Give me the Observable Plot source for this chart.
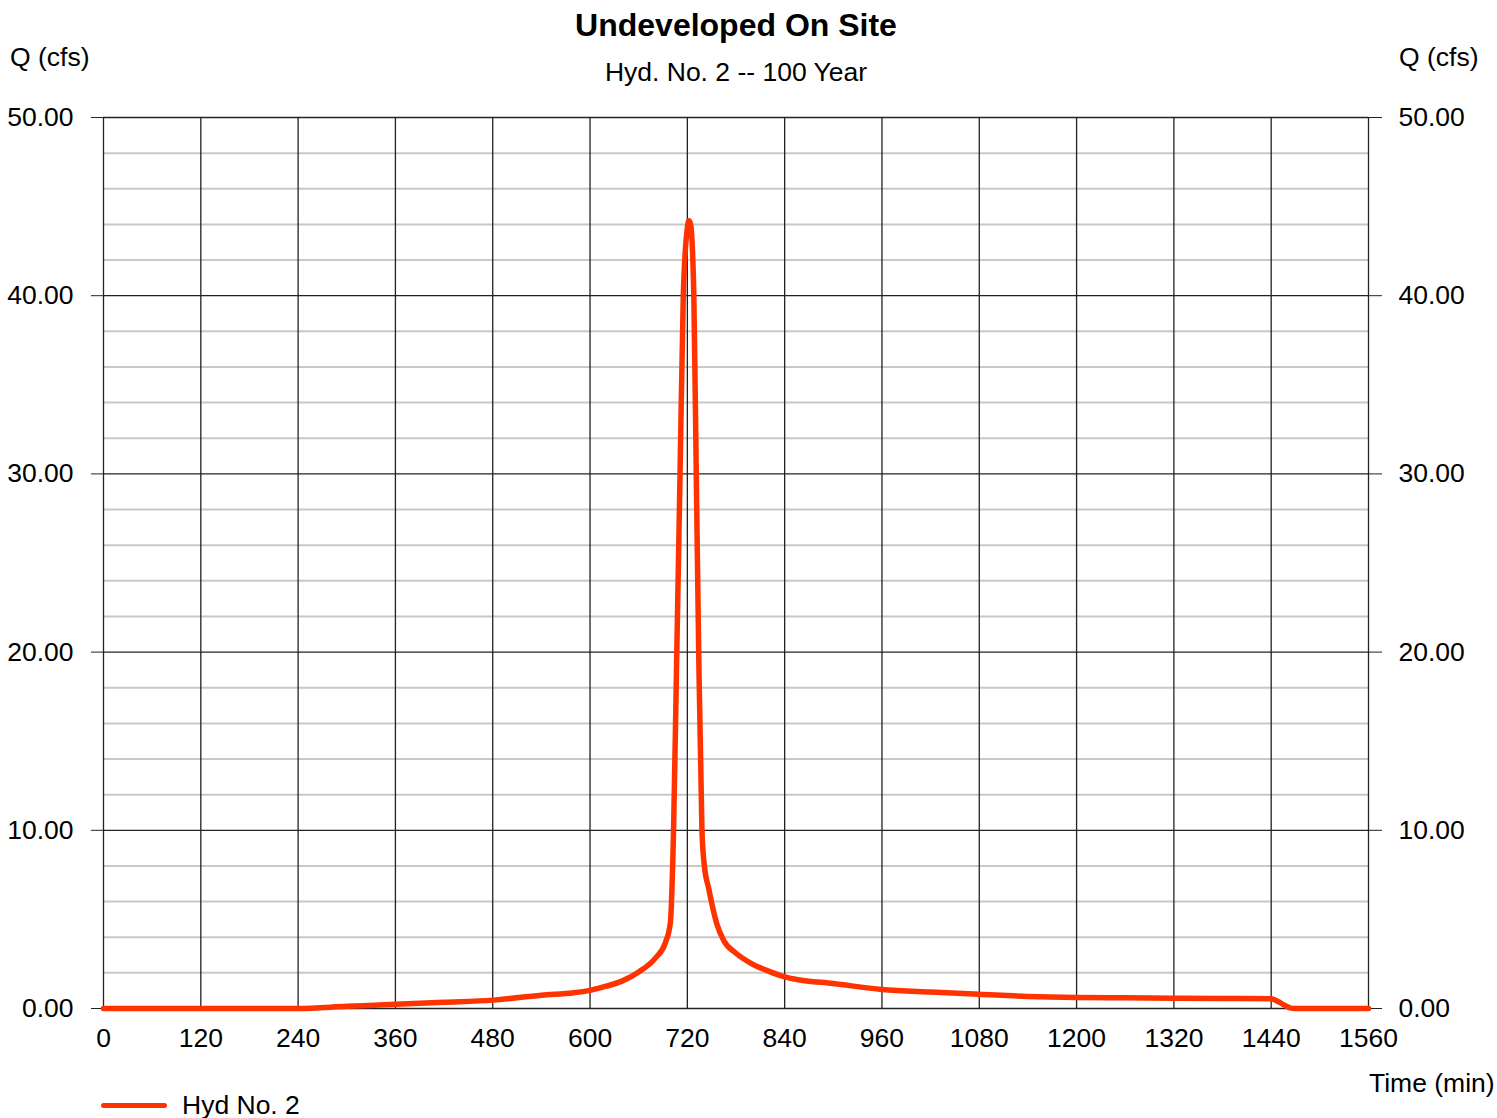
<!DOCTYPE html>
<html>
<head>
<meta charset="utf-8">
<script src="https://cdn.jsdelivr.net/npm/d3@7"></script>
<script src="https://cdn.jsdelivr.net/npm/@observablehq/plot@0.6"></script>
<style>
  html, body { margin: 0; padding: 0; background: #fff; overflow: hidden; }
  #wrap { position: relative; width: 1497px; height: 1118px; font-family: "Liberation Sans", Arial, sans-serif; color: #000; }
  .lbl { position: absolute; white-space: nowrap; font-size: 26.5px; line-height: 1; }
  #title { left: 0; width: 1472px; text-align: center; top: 9px; font-size: 32px; font-weight: bold; }
  #subtitle { left: 0; width: 1472px; text-align: center; top: 59px; }
  #qleft { left: 10px; top: 44px; }
  #qright { left: 1399px; top: 44px; }
  #tlabel { left: 1369px; top: 1070px; }
  #legend { left: 101px; top: 1092px; display: flex; align-items: center; }
  #legend .sw { width: 66px; height: 5px; border-radius: 3px; background: #ff3300; margin-right: 15px; }
</style>
</head>
<body>
<div id="wrap">
  <div id="chart"></div>
  <div class="lbl" id="title">Undeveloped On Site</div>
  <div class="lbl" id="subtitle">Hyd. No. 2 -- 100 Year</div>
  <div class="lbl" id="qleft">Q (cfs)</div>
  <div class="lbl" id="qright">Q (cfs)</div>
  <div class="lbl" id="tlabel">Time (min)</div>
  <div class="lbl" id="legend"><span class="sw"></span><span>Hyd No. 2</span></div>
</div>
<script>
// Hydrograph values (time in minutes, Q in cfs)
const timeMin = [0, 240, 300, 360, 420, 480, 540, 580, 600, 620, 640, 660, 680, 693, 699, 703, 707, 711, 715, 720, 722, 724, 728, 731, 734, 738, 741, 746, 756, 765, 780, 798, 820, 840, 855, 900, 960, 1020, 1080, 1140, 1200, 1260, 1320, 1380, 1440, 1446, 1452, 1458, 1464, 1470, 1560];
const flowCfs = [0, 0, 0.12, 0.24, 0.35, 0.47, 0.75, 0.88, 1.02, 1.25, 1.55, 2.05, 2.8, 3.7, 4.8, 10, 20, 30, 40, 43.8, 44.2, 44.0, 40, 30, 20, 10, 8, 6.8, 4.8, 3.8, 3.1, 2.55, 2.1, 1.78, 1.63, 1.4, 1.07, 0.92, 0.8, 0.68, 0.62, 0.6, 0.58, 0.56, 0.55, 0.45, 0.3, 0.15, 0.02, 0, 0];
const xTicks = [0, 120, 240, 360, 480, 600, 720, 840, 960, 1080, 1200, 1320, 1440, 1560];
const yMajorTicks = [0, 10, 20, 30, 40, 50];
const yMinorTicks = [2, 4, 6, 8, 12, 14, 16, 18, 22, 24, 26, 28, 32, 34, 36, 38, 42, 44, 46, 48];
const seriesName = "Hyd No. 2";

const data = timeMin.map((t, i) => ({t, q: flowCfs[i], series: seriesName}));

const chart = Plot.plot({
  width: 1497,
  height: 1118,
  marginLeft: 103,
  marginRight: 129,
  marginTop: 117,
  marginBottom: 110,
  style: {fontFamily: "Liberation Sans, Arial, sans-serif", fontSize: "26.5px", color: "#000", background: "#fff"},
  x: {domain: [0, 1560]},
  y: {domain: [0, 50]},
  marks: [
    Plot.ruleY(yMinorTicks, {stroke: "#c8c8c8", strokeWidth: 2}),
    Plot.ruleX(xTicks, {stroke: "#222", strokeWidth: 1.3}),
    Plot.ruleY(yMajorTicks, {stroke: "#222", strokeWidth: 1.3}),
    Plot.axisY({anchor: "left", ticks: yMajorTicks, tickSize: 12, tickPadding: 18, tickFormat: d3.format(".2f"), label: null, stroke: "#222"}),
    Plot.axisY({anchor: "right", ticks: yMajorTicks, tickSize: 13, tickPadding: 17, tickFormat: d3.format(".2f"), label: null, stroke: "#222"}),
    Plot.axisX({anchor: "bottom", ticks: xTicks, tickSize: 0, tickPadding: 20, tickFormat: d => String(d), label: null}),
    Plot.line(data, {x: "t", y: "q", stroke: "#ff3300", strokeWidth: 5.5, curve: "monotone-x", strokeLinejoin: "round", strokeLinecap: "round"})
  ]
});
document.getElementById("chart").appendChild(chart);
</script>
</body>
</html>
